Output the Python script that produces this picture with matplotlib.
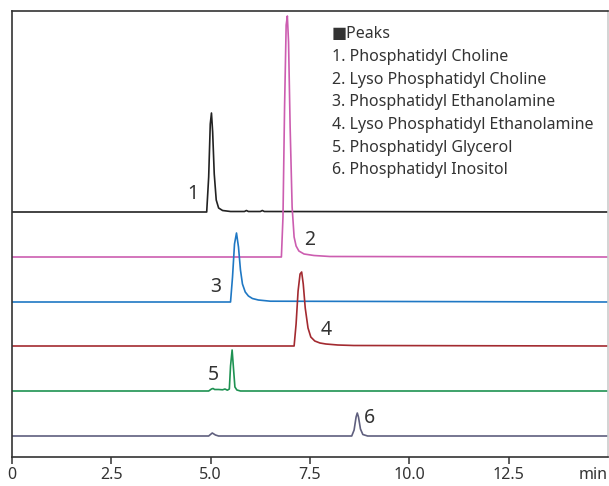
import numpy as np
import matplotlib
matplotlib.use("Agg")
import matplotlib.pyplot as plt
import matplotlib.transforms as mtransforms

plt.rcParams['font.family'] = ['Noto Sans', 'DejaVu Sans']

# chromatogram traces (time in min, signal above own baseline)
pc_t = [0, 4.90, 4.95, 4.99, 5.02, 5.05, 5.09, 5.14, 5.20, 5.30, 5.50, 5.85, 5.90, 5.95, 6.25, 6.30, 6.35, 15]
pc_y = [0, 0, 35, 88, 99, 80, 38, 12, 4, 1.5, 0.5, 0.5, 1.5, 0.5, 0.5, 1.5, 0.5, 0]

lpc_t = [0, 6.78, 6.82, 6.86, 6.90, 6.93, 6.96, 7.00, 7.05, 7.10, 7.15, 7.22, 7.35, 7.60, 8.00, 15]
lpc_y = [0, 0, 40, 150, 232, 241, 215, 130, 50, 20, 11, 6, 3, 1.5, 0.5, 0]

pe_t = [0, 5.50, 5.55, 5.60, 5.65, 5.70, 5.75, 5.80, 5.87, 5.95, 6.05, 6.20, 6.50, 15]
pe_y = [0, 0, 25, 58, 69, 55, 32, 18, 10, 6, 3.5, 2, 0.8, 0]

lpe_t = [0, 7.10, 7.15, 7.20, 7.25, 7.29, 7.33, 7.38, 7.45, 7.52, 7.62, 7.75, 7.90, 8.20, 8.60, 15]
lpe_y = [0, 0, 22, 55, 72, 74, 62, 38, 18, 9, 5, 3, 2, 1, 0.5, 0]

pg_t = [0, 4.95, 5.02, 5.06, 5.10, 5.20, 5.30, 5.36, 5.42, 5.47, 5.50, 5.54, 5.57, 5.61, 5.66, 5.75, 15]
pg_y = [0, 0, 2, 2.5, 1.5, 1.5, 1.2, 2, 0.8, 2, 25, 41, 25, 4, 1, 0, 0]

pi_t = [0, 4.95, 5.04, 5.12, 5.20, 8.55, 8.61, 8.66, 8.69, 8.72, 8.77, 8.83, 8.95, 15]
pi_y = [0, 0, 3, 1, 0, 0, 6, 19, 23, 19, 7, 1.5, 0, 0]

peak_labels = ["1", "2", "3", "4", "5", "6"]
legend_lines = [
    "\u25a0Peaks",
    "1. Phosphatidyl Choline",
    "2. Lyso Phosphatidyl Choline",
    "3. Phosphatidyl Ethanolamine",
    "4. Lyso Phosphatidyl Ethanolamine",
    "5. Phosphatidyl Glycerol",
    "6. Phosphatidyl Inositol",
]
x_ticks = [0, 2.5, 5.0, 7.5, 10.0, 12.5]
x_tick_labels = ["0", "2.5", "5.0", "7.5", "10.0", "12.5"]


def main():
    traces = [(pc_t, pc_y), (lpc_t, lpc_y), (pe_t, pe_y),
              (lpe_t, lpe_y), (pg_t, pg_y), (pi_t, pi_y)]
    offsets = [245, 200, 155, 111, 66, 21]
    colors = ["#222222", "#cc5db0", "#1f78c4", "#a32a30", "#1e9252", "#5f5f7e"]
    # label positions (time, height) next to each peak
    label_pos = [(4.55, 263), (7.5, 217), (5.12, 170), (7.9, 127), (5.08, 82), (9.0, 39)]

    fig = plt.figure(figsize=(6.09, 4.86), dpi=100)
    ax = fig.add_axes([12 / 609, 29 / 486, 596 / 609, 446 / 486])

    for (t, y), off, c in zip(traces, offsets, colors):
        ax.plot(t, np.array(y) + off, color=c, linewidth=1.2,
                solid_joinstyle='round', solid_capstyle='round')

    for lab, (lx, ly) in zip(peak_labels, label_pos):
        ax.text(lx, ly, lab, fontsize=14, color="#333333", ha='center', va='center')

    ax.set_xlim(0, 15)
    ax.set_ylim(0, 446)
    ax.set_yticks([])
    ax.set_xticks(x_ticks)
    ax.set_xticklabels(x_tick_labels)
    ax.tick_params(axis='x', direction='out', length=5, width=1.1, color="#333333",
                   labelsize=11.5, labelcolor="#333333", pad=2)

    for side in ["left", "top", "bottom"]:
        ax.spines[side].set_color("#333333")
        ax.spines[side].set_linewidth(1.2)
    ax.spines["right"].set_color("#cccccc")
    ax.spines["right"].set_linewidth(1.2)

    trans = mtransforms.blended_transform_factory(ax.transData, ax.transAxes)
    ax.text(15, -0.022, "min", transform=trans, ha='right', va='top',
            fontsize=11.5, color="#333333")

    for i, line in enumerate(legend_lines):
        ax.text(0.537, 0.948 - i * 0.0509, line, transform=ax.transAxes,
                ha='left', va='center', fontsize=11.5, color="#333333")

    fig.savefig("out.png", dpi=100)


if __name__ == "__main__":
    main()
